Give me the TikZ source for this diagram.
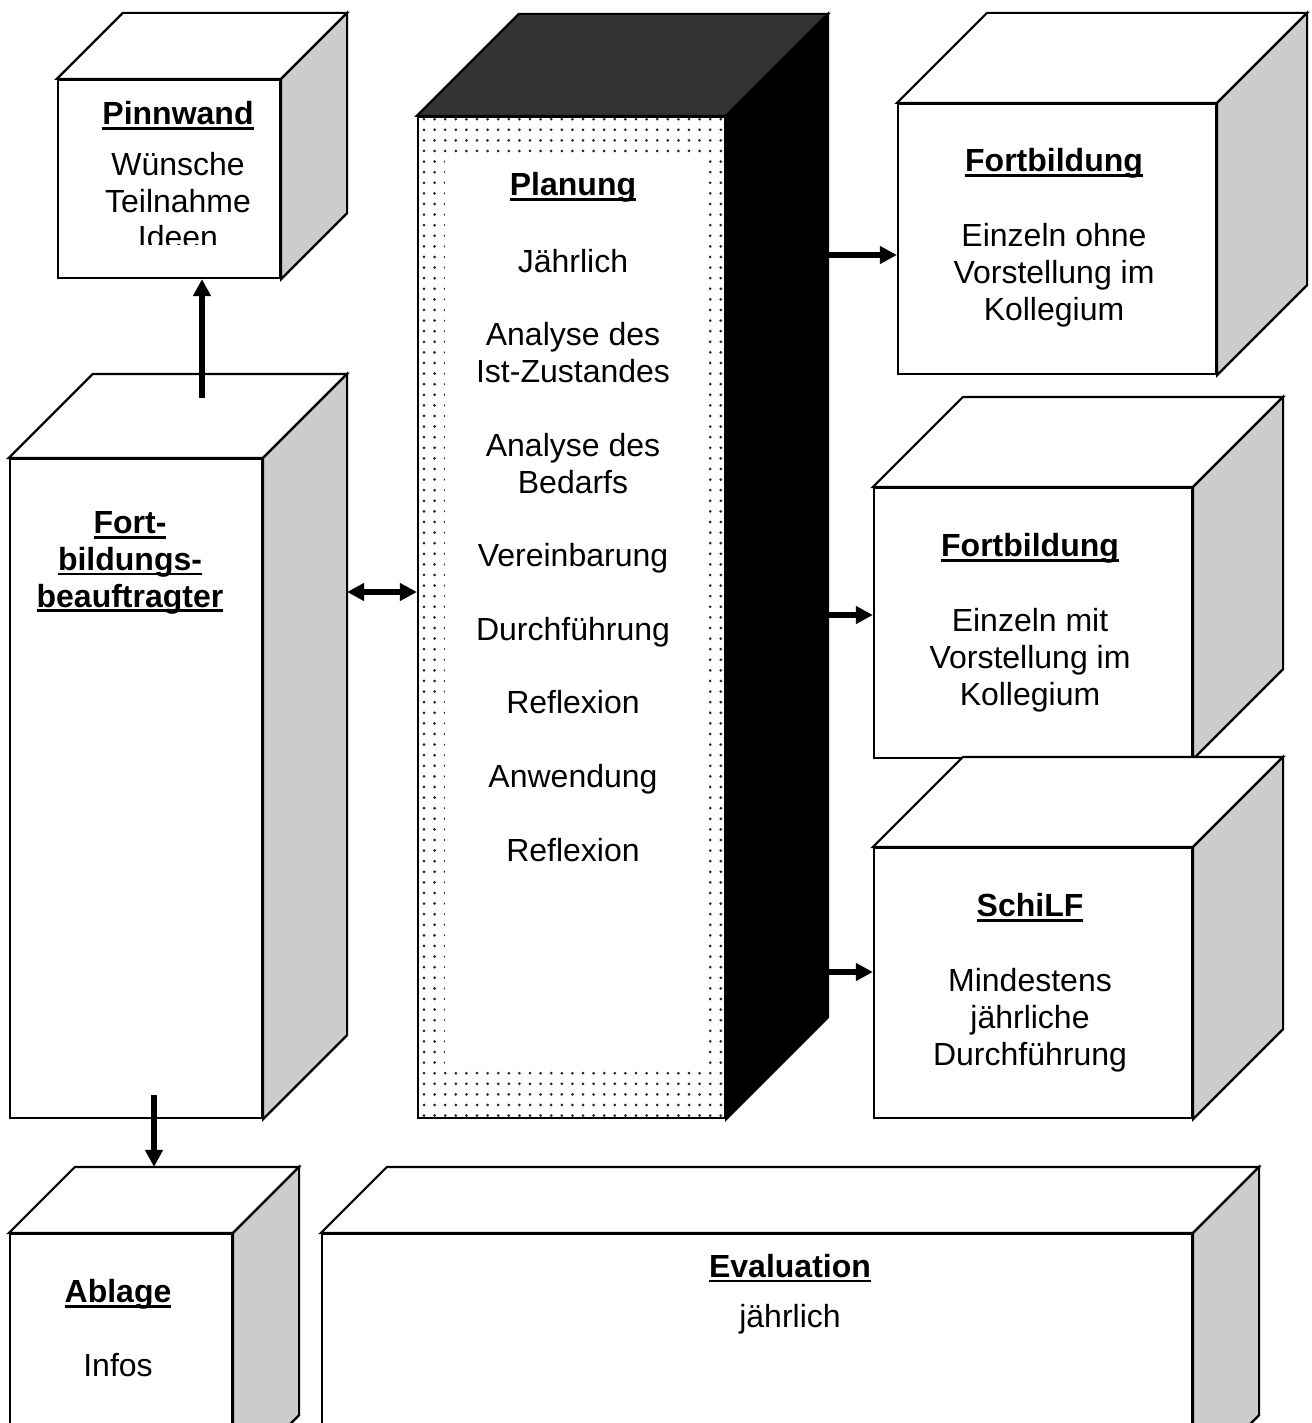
\documentclass[tikz,border=0pt]{standalone}
\usepackage{fontspec}
\setmainfont{Liberation Sans}
\usetikzlibrary{arrows.meta,fit,patterns.meta}

\definecolor{seite}{HTML}{CCCCCC}
\definecolor{deckel}{HTML}{333333}

% fett und unterstrichen
\newsavebox\ulbox
\newcommand\ueber[1]{\leavevmode\sbox\ulbox{\bfseries #1}\rlap{\rule[-2.6pt]{\wd\ulbox}{1.4pt}}\usebox\ulbox}

% Quader: Name, x1, y1, x2, y2, Tiefe
\newcommand\quader[6]{%
  \node[front, fit={(#2,#3) (#4,#5)}] (#1) {};
  \draw[top face] (#1.north west) -- ++(#6,-#6) -- ([shift={(#6,-#6)}]#1.north east) -- (#1.north east) -- cycle;
  \draw[side face] (#1.north east) -- ++(#6,-#6) -- ([shift={(#6,-#6)}]#1.south east) -- (#1.south east) -- cycle;
  \coordinate (#1-r) at ([shift={(#6,-#6)}]#1.north east);
  \coordinate (#1-t) at ([shift={(#6,-#6)}]#1.north west);
}

\begin{document}
\begin{tikzpicture}[x=0.5pt, y=-0.5pt,
    front/.style={draw, line width=1.1pt, fill=white, inner sep=0pt},
    top face/.style={draw, line width=1.1pt, fill=white},
    side face/.style={draw, line width=1.1pt, fill=seite},
    beschr/.style={anchor=base, align=center, inner sep=0pt, font=\fontsize{16pt}{18.4pt}\selectfont},
    pfeil/.style={line width=2.6pt, -{Triangle[length=8.5pt,width=8.5pt]}},
    doppelpfeil/.style={line width=2.6pt, {Triangle[length=8.5pt,width=8.5pt]}-{Triangle[length=8.5pt,width=8.5pt]}}]
  \useasboundingbox (0,0) rectangle (1311,1423);
  \clip (0,0) rectangle (1311,1423);

  \quader{pinn}{58}{80}{280}{278}{66}
  \quader{fbb}{10}{459}{262}{1118}{84}
  \begin{scope}[top face/.append style={fill=deckel}, side face/.append style={fill=black},
      front/.append style={pattern={Dots[radius=0.75pt,distance=5.3pt]}, pattern color=black!85}]
    \quader{plan}{418}{117}{725}{1118}{102}
  \end{scope}
  \node[fill=white, inner sep=0pt, fit={(445,157) (709,1068)}] (planinnen) {};
  \quader{fbone}{898}{104}{1216}{374}{90}
  \quader{fbtwo}{874}{488}{1192}{758}{90}
  \quader{schilf}{874}{848}{1192}{1118}{90}
  \quader{abl}{10}{1234}{232}{1480}{66}
  \quader{eval}{322}{1234}{1192}{1480}{66}

  % Texte (Anker: Grundlinie der letzten Zeile)
  \begin{scope}
    \clip (58,80) rectangle (280,245);
    \node[beschr] (pinntext) at (178,249) {\ueber{Pinnwand}\\[7pt] Wünsche\\ Teilnahme\\ Ideen};
  \end{scope}
  \node[beschr] (fbbtext) at (130,607) {\ueber{Fort-}\\ \ueber{bildungs-}\\ \ueber{beauftragter}};
  \node[beschr] (plantext) at (573,861) {\ueber{Planung}\\[20pt] Jährlich\\[18.4pt] Analyse des\\ Ist-Zustandes\\[18.4pt]
    Analyse des\\ Bedarfs\\[18.4pt] Vereinbarung\\[18.4pt] Durchführung\\[18.4pt] Reflexion\\[18.4pt] Anwendung\\[18.4pt] Reflexion};
  \node[beschr] (fbonetext) at (1054,320) {\ueber{Fortbildung}\\[19pt] Einzeln ohne\\ Vorstellung im\\ Kollegium};
  \node[beschr] (fbtwotext) at (1030,705) {\ueber{Fortbildung}\\[19pt] Einzeln mit\\ Vorstellung im\\ Kollegium};
  \node[beschr] (schilftext) at (1030,1065) {\ueber{SchiLF}\\[19pt] Mindestens\\ jährliche\\ Durchführung};
  \node[beschr] (abltext) at (118,1376) {\ueber{Ablage}\\[18.4pt] Infos};
  \node[beschr] (evaltext) at (790,1327) {\ueber{Evaluation}\\[6.5pt] jährlich};

  % Pfeile
  \coordinate (pinstart) at (202,398);
  \draw[pfeil] (pinstart) -- (pinstart |- pinn.south);
  \path ([yshift=12.75pt]plan.west) coordinate (doppel);
  \draw[doppelpfeil] (fbb-r |- doppel) -- (doppel);
  \path ([yshift=-8pt]fbone.west) coordinate (eins);
  \draw[pfeil] (plan-r |- eins) -- (eins);
  \path ([yshift=4pt]fbtwo.west) coordinate (zwei);
  \draw[pfeil] (plan-r |- zwei) -- (zwei);
  \path ([yshift=5.5pt]schilf.west) coordinate (drei);
  \draw[pfeil] (plan-r |- drei) -- (drei);
  \coordinate (ablstart) at (154,1095);
  \draw[pfeil] (ablstart) -- (ablstart |- abl-t);
\end{tikzpicture}
\end{document}
